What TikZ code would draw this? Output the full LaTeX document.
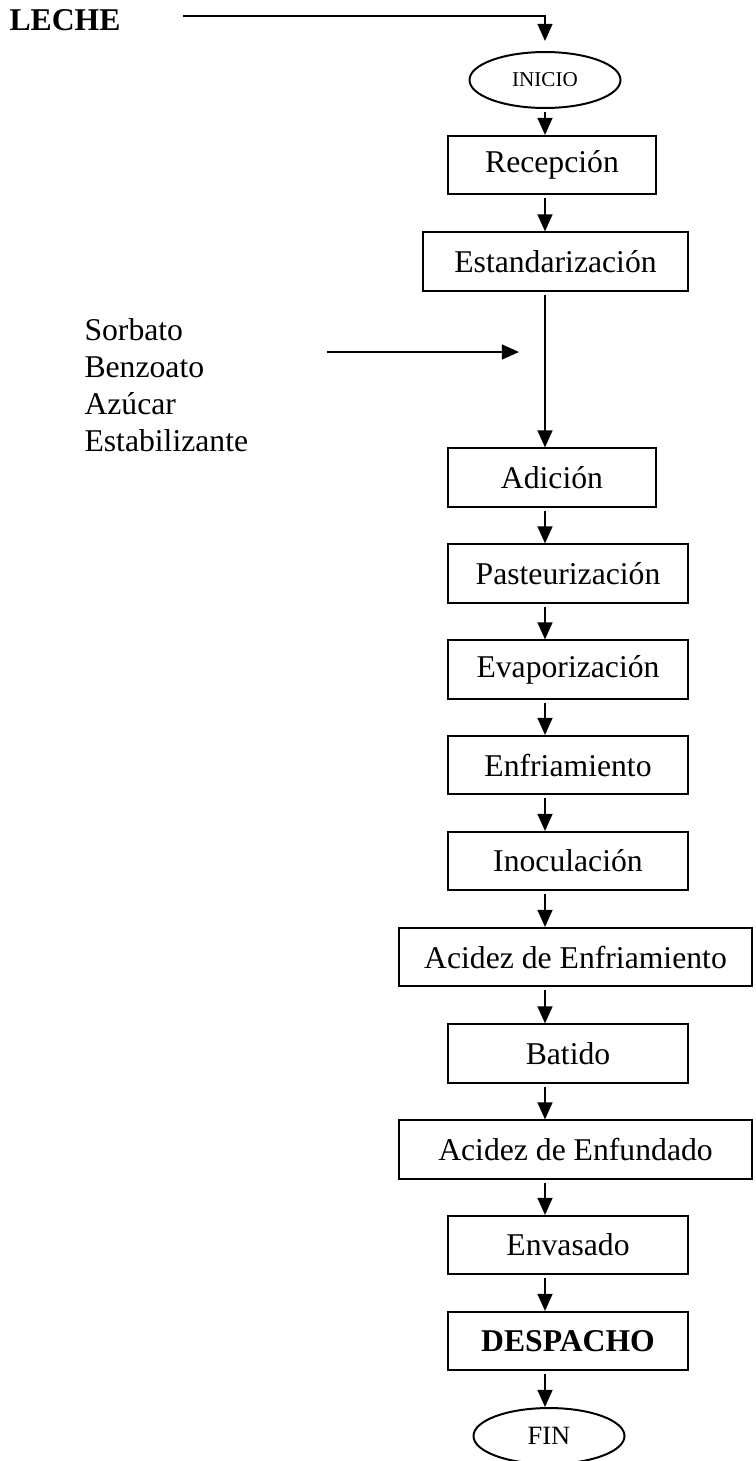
\documentclass[tikz,border=0pt]{standalone}
\usepackage{fontspec}
\setmainfont{Liberation Serif}
\usetikzlibrary{arrows.meta,shapes,positioning}
\tikzset{
    flow/.style={-{Triangle[length=6.5pt, width=5.6pt]}, line width=0.85pt, shorten <=1.2pt},
    stepbox/.style={draw, line width=0.75pt, minimum height=22pt, inner sep=0pt, font=\fontsize{12}{14}\selectfont},
    terminal/.style={draw, ellipse, line width=0.75pt, minimum width=57.2pt, minimum height=21.2pt, inner sep=0pt}
}

\begin{document}
\begin{tikzpicture}[x=0.3788pt, y=-0.3788pt]
            \useasboundingbox (0,0) rectangle (755,1461);
            \node[font=\bfseries\fontsize{12}{14}\selectfont, anchor=base west, inner sep=0pt] (leche) at (9,30) {LECHE};
            \node[align=left, anchor=base west, inner sep=0pt, font=\fontsize{12}{13.9}\selectfont] (aditivos) at (84,451) {Sorbato\\Benzoato\\Azúcar\\Estabilizante};
            \coordinate (lechein) at (183,16);
            \coordinate (addin) at (327,352);
            \coordinate (addout) at (519,352);

            \node[terminal, font=\fontsize{8}{9}\selectfont] (inicio) at (545,80) {INICIO};
            \node[stepbox, minimum width=78.8pt] (rec) at (552,165) {Recepción};
            \node[stepbox, minimum width=100.4pt] (est) at (555.5,261.5) {Estandarización};
            \node[stepbox, minimum width=78.8pt] (adi) at (552,477.5) {Adición};
            \node[stepbox, minimum width=90.9pt] (pas) at (568,573.5) {Pasteurización};
            \node[stepbox, minimum width=90.9pt] (eva) at (568,669.5) {Evaporización};
            \node[stepbox, minimum width=90.9pt] (enf) at (568,765) {Enfriamiento};
            \node[stepbox, minimum width=90.9pt] (ino) at (568,861) {Inoculación};
            \node[stepbox, minimum width=133.7pt] (acenf) at (575.5,957) {Acidez de Enfriamiento};
            \node[stepbox, minimum width=90.9pt] (bat) at (568,1053.5) {Batido};
            \node[stepbox, minimum width=133.7pt] (acfun) at (575.5,1149.5) {Acidez de Enfundado};
            \node[stepbox, minimum width=90.9pt] (env) at (568,1245) {Envasado};
            \node[stepbox, minimum width=90.9pt, font=\bfseries\fontsize{12}{14}\selectfont] (des) at (568,1341) {DESPACHO};
            \node[terminal, font=\fontsize{10}{12}\selectfont] (fin) at (549,1436) {FIN};

            \draw[flow, shorten <=0pt, shorten >=3.8pt] (lechein) -| (inicio.north);
            \draw[flow, shorten <=0pt] (addin) -- (addout);
            \draw[flow] (inicio) -- (inicio |- rec.north);
            \draw[flow] (rec.south -| inicio) -- (est.north -| inicio);
            \draw[flow] (est.south -| inicio) -- (adi.north -| inicio);
            \draw[flow] (adi.south -| inicio) -- (pas.north -| inicio);
            \draw[flow] (pas.south -| inicio) -- (eva.north -| inicio);
            \draw[flow] (eva.south -| inicio) -- (enf.north -| inicio);
            \draw[flow] (enf.south -| inicio) -- (ino.north -| inicio);
            \draw[flow] (ino.south -| inicio) -- (acenf.north -| inicio);
            \draw[flow] (acenf.south -| inicio) -- (bat.north -| inicio);
            \draw[flow] (bat.south -| inicio) -- (acfun.north -| inicio);
            \draw[flow] (acfun.south -| inicio) -- (env.north -| inicio);
            \draw[flow] (env.south -| inicio) -- (des.north -| inicio);
            \draw[flow] (des.south -| inicio) -- (fin.north -| inicio);
        \end{tikzpicture}
\end{document}
